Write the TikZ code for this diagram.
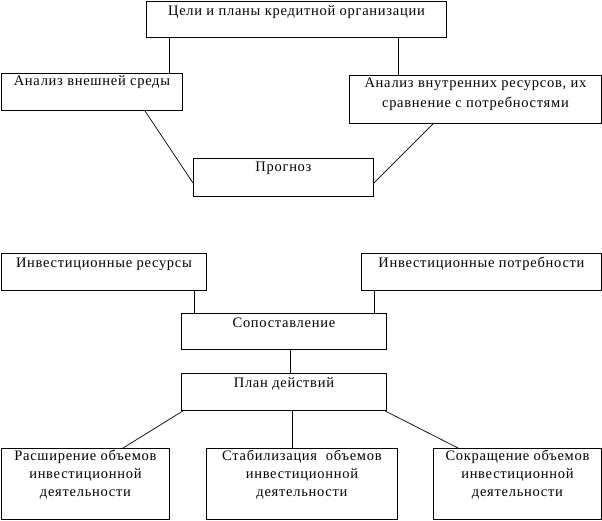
\documentclass[tikz,border=0pt]{standalone}
\usepackage{fontspec}
\setmainfont{Liberation Serif}[LetterSpace=5]
\usetikzlibrary{positioning}
\begin{document}
\begin{tikzpicture}[x=1pt,y=-1pt,
  box/.style={draw, line width=0.9pt, inner sep=0pt, anchor=north west},
  conn/.style={line width=0.7pt},
  txt/.style={anchor=center, align=center, inner sep=0pt, font=\fontsize{14.5}{18}\selectfont}]
\useasboundingbox[fill=white] (0,0) rectangle (602,520);
% boxes
\node[box, minimum width=300pt, minimum height=36pt, label={[txt, yshift=-11pt]north:Цели и планы кредитной организации}] (T) at (146,1) {};
\node[box, minimum width=181pt, minimum height=37pt, label={[txt, yshift=-9pt]north:Анализ внешней среды}] (L) at (1,73) {};
\node[box, minimum width=252pt, minimum height=48pt, label={[txt, yshift=-19pt, font=\fontsize{14.5}{20}\selectfont]north:Анализ внутренних ресурсов, их\\сравнение с потребностями}] (R) at (349,75) {};
\node[box, minimum width=180pt, minimum height=38pt, label={[txt, yshift=-10pt]north:Прогноз}] (P) at (193,158) {};
\node[box, minimum width=205pt, minimum height=37pt, label={[txt, yshift=-11pt]north:Инвестиционные ресурсы}] (IR) at (1,253) {};
\node[box, minimum width=240pt, minimum height=37pt, label={[txt, yshift=-11pt]north:Инвестиционные потребности}] (IP) at (361,253) {};
\node[box, minimum width=205pt, minimum height=36pt, label={[txt, yshift=-10pt]north:Сопоставление}] (S) at (181,313) {};
\node[box, minimum width=205pt, minimum height=37pt, label={[txt, yshift=-11pt]north:План действий}] (PD) at (181,373) {};
\node[box, minimum width=168pt, minimum height=71pt, label={[txt, yshift=-27pt]north:Расширение объемов\\инвестиционной\\деятельности}] (B1) at (1,448) {};
\node[box, minimum width=191pt, minimum height=71pt, label={[txt, yshift=-27pt]north:Стабилизация\ \ объемов\\инвестиционной\\деятельности}] (B2) at (206,448) {};
\node[box, minimum width=168pt, minimum height=71pt, label={[txt, yshift=-27pt]north:Сокращение объемов\\инвестиционной\\деятельности}] (B3) at (433,448) {};
% connectors
\draw[conn] (T.south -| 169,0) -- (L.north -| 169,0);
\draw[conn] (T.south -| 398,0) -- (R.north -| 398,0);
\draw[conn] (L.south -| 145,0) -- (P.west |- 0,183);
\draw[conn] (R.south -| 433,0) -- (P.east |- 0,183);
\draw[conn] (IR.south -| 194,0) -- (S.north -| 194,0);
\draw[conn] (IP.south -| 374,0) -- (S.north -| 374,0);
\draw[conn] (S.south -| 290,0) -- (PD.north -| 290,0);
\draw[conn] (PD.south -| 183,0) -- (B1.north -| 123,0);
\draw[conn] (PD.south -| 292,0) -- (B2.north -| 292,0);
\draw[conn] (PD.south -| 385,0) -- (B3.north -| 458,0);
\end{tikzpicture}
\end{document}
